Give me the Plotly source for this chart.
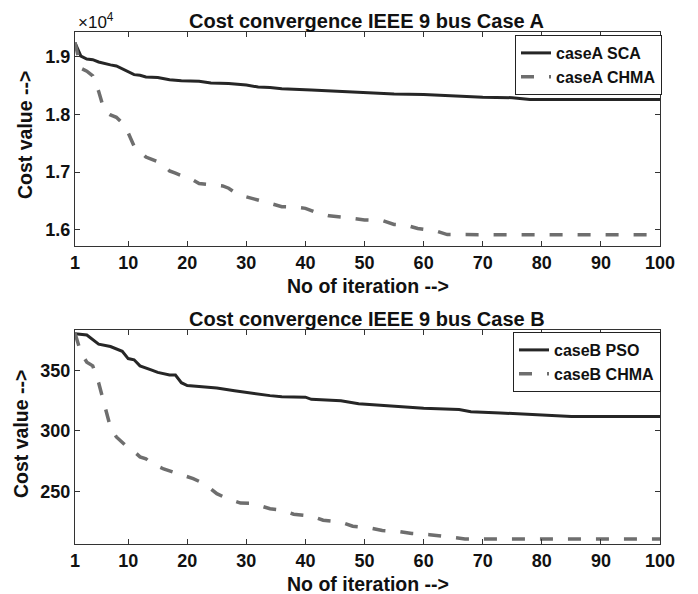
import plotly.graph_objects as go
import numpy as np

# ---- Data ----
xA_sca = [1, 2, 3, 4, 5, 6, 7, 8, 9, 10, 11, 12, 13, 15, 17, 19, 22, 24, 27, 30, 32, 34, 36, 41, 46, 49, 55, 60, 65, 70, 75, 78, 100]
yA_sca = [19240, 19010, 18960, 18950, 18910, 18880, 18860, 18840, 18790, 18730, 18690, 18680, 18650, 18640, 18600, 18585,
          18575, 18545, 18535, 18510, 18475, 18465, 18445, 18425, 18400, 18375, 18355, 18345, 18320, 18300, 18290, 18260, 18260]

xA_chma = [1, 2, 3, 4, 5, 6, 7, 8, 9, 10, 11, 12, 13, 14, 15, 16, 17, 18, 19, 20, 22, 24, 26, 27, 28, 30, 32, 34, 36, 38,
           40, 42, 44, 47, 50, 53, 55, 57, 59, 62, 64, 100]
yA_chma = [19250, 18800, 18750, 18670, 18400, 18050, 17990, 17950, 17850, 17680, 17450, 17350, 17260, 17220, 17180, 17120,
           17020, 16980, 16940, 16920, 16800, 16780, 16760, 16720, 16650, 16570, 16510, 16460, 16400, 16395,
           16370, 16290, 16240, 16210, 16170, 16160, 16090, 16080, 16020, 15980, 15915, 15910]

xB_pso = [1, 3, 5, 7, 9, 10, 11, 12, 14, 15, 17, 18, 19, 20, 23, 25, 28, 31, 34, 36, 40, 41, 46, 49, 55, 60, 66, 68, 73, 79, 85, 100]
yB_pso = [380.5, 379.6, 372, 370, 366, 360, 359, 354, 350.5, 348.6, 346.4, 346.4, 340, 337.6, 336.5, 335.6, 333.4, 331.2,
          329.3, 328.4, 328, 326.2, 325.1, 322.6, 320.4, 318.8, 317.7, 316, 314.9, 313.3, 312, 312]

xB_chma = [1, 2, 3, 4, 5, 6, 7, 8, 9, 10, 11, 12, 13, 14, 16, 18, 21, 23, 25, 27, 29, 31, 34, 36, 38, 41, 43, 46, 48, 51,
           53, 56, 58, 61, 63, 65, 67, 100]
yB_chma = [381, 365, 357, 354, 340, 320, 303, 295, 290, 286, 283, 278.5, 277, 273, 268.5, 265.5, 260.5, 256, 248, 243.5,
           240.2, 240, 235.5, 234.5, 231, 229.5, 226, 224.5, 221, 219.5, 217.5, 216.5, 215, 214, 213, 212, 210.5, 210.5]

x_ticks = [1, 10, 20, 30, 40, 50, 60, 70, 80, 90, 100]
yA_ticks = [1.6, 1.7, 1.8, 1.9]
yB_ticks = [250, 300, 350]

SCALE_A = 1e4

W, H = 698, 594
FONT = "Liberation Sans, Arial, sans-serif"
AX_COLOR = "#333333"
SOLID = "#262626"
DASHC = "#6e6e6e"

fig = go.Figure()

fig.add_trace(go.Scatter(x=xA_sca, y=np.array(yA_sca) / SCALE_A, mode="lines", name="caseA SCA",
                         line=dict(color=SOLID, width=3), xaxis="x", yaxis="y", legend="legend"))
fig.add_trace(go.Scatter(x=xA_chma, y=np.array(yA_chma) / SCALE_A, mode="lines", name="caseA CHMA",
                         line=dict(color=DASHC, width=3.5, dash="13px,15px"), xaxis="x", yaxis="y", legend="legend"))
fig.add_trace(go.Scatter(x=xB_pso, y=yB_pso, mode="lines", name="caseB PSO",
                         line=dict(color=SOLID, width=3), xaxis="x2", yaxis="y2", legend="legend2"))
fig.add_trace(go.Scatter(x=xB_chma, y=yB_chma, mode="lines", name="caseB CHMA",
                         line=dict(color=DASHC, width=3.5, dash="13px,15px"), xaxis="x2", yaxis="y2", legend="legend2"))

def px_x(p):
    return p / W

def px_y(p):
    return 1 - p / H

tickfont = dict(family=FONT, size=18, color="#111111", weight="bold")
axis_common = dict(showline=True, linecolor=AX_COLOR, linewidth=1, mirror="ticks", ticks="inside",
                   ticklen=5, tickcolor=AX_COLOR, showgrid=False, zeroline=False, tickfont=tickfont,
                   automargin=False)

xdom = [px_x(75), px_x(660)]
fig.update_layout(
    width=W, height=H, autosize=False,
    margin=dict(l=0, r=0, t=0, b=0, pad=0),
    paper_bgcolor="white", plot_bgcolor="white",
    xaxis=dict(domain=xdom, range=[1, 100], tickvals=x_ticks, anchor="y", **axis_common),
    yaxis=dict(domain=[px_y(246), px_y(32)], range=[1.5717, 1.943], tickvals=yA_ticks,
               ticktext=[f"{v:.1f}" for v in yA_ticks], anchor="x", **axis_common),
    xaxis2=dict(domain=xdom, range=[1, 100], tickvals=x_ticks, anchor="y2", **axis_common),
    yaxis2=dict(domain=[px_y(544), px_y(330)], range=[206.3, 383.7], tickvals=yB_ticks, anchor="x2", **axis_common),
    legend=dict(x=px_x(662), y=px_y(35), xanchor="right", yanchor="top", bgcolor="white",
                bordercolor="#222222", borderwidth=1,
                font=dict(family=FONT, size=16, color="#111111", weight="bold"), tracegroupgap=0),
    legend2=dict(x=px_x(661), y=px_y(332), xanchor="right", yanchor="top", bgcolor="white",
                 bordercolor="#222222", borderwidth=1,
                 font=dict(family=FONT, size=16, color="#111111", weight="bold"), tracegroupgap=0),
    showlegend=True,
)

titlefont = dict(family=FONT, size=20, color="#111111", weight="bold")
labelfont = dict(family=FONT, size=19.5, color="#111111", weight="bold")
ann = [
    dict(text="Cost convergence IEEE 9 bus Case A", x=px_x(366.5), y=px_y(21), font=titlefont),
    dict(text="No of iteration -->", x=px_x(367.5), y=px_y(286), font=labelfont),
    dict(text="Cost value -->", x=px_x(25), y=px_y(135), font=labelfont, textangle=-90),
    dict(text="Cost convergence IEEE 9 bus Case B", x=px_x(366.5), y=px_y(319), font=titlefont),
    dict(text="No of iteration -->", x=px_x(367.5), y=px_y(584), font=labelfont),
    dict(text="Cost value -->", x=px_x(21), y=px_y(434), font=labelfont, textangle=-90),
]
annotations = []
for a in ann:
    a.update(xref="paper", yref="paper", showarrow=False, xanchor="center", yanchor="middle")
    annotations.append(a)
annotations.append(dict(text="×10<sup>4</sup>", x=px_x(76), y=px_y(21), xref="paper", yref="paper",
                        showarrow=False, xanchor="left", yanchor="middle",
                        font=dict(family=FONT, size=17, color="#111111")))
fig.update_layout(annotations=annotations)

post = (
    "document.documentElement.style.margin='0px';"
    "document.documentElement.style.overflow='hidden';"
    "document.body.style.margin='0px';document.body.style.padding='0px';"
    "document.body.style.overflow='hidden';"
    "var gd=document.getElementById('{plot_id}');"
    "Plotly.relayout(gd,{width:698,height:594,autosize:false});"
)

fig.write_html("out.html", config={"displayModeBar": False, "responsive": False}, post_script=post)
